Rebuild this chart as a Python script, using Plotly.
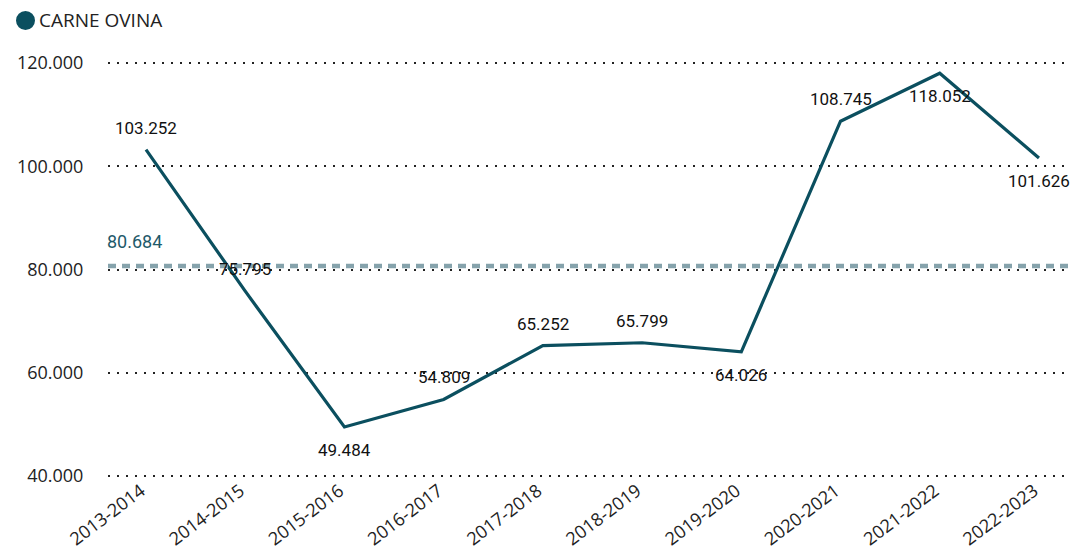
import plotly.graph_objects as go

categories = ["2013-2014", "2014-2015", "2015-2016", "2016-2017", "2017-2018",
              "2018-2019", "2019-2020", "2020-2021", "2021-2022", "2022-2023"]
values = [103252, 75795, 49484, 54809, 65252, 65799, 64026, 108745, 118052, 101626]
label_pos = ["top", "top", "bottom", "top", "top", "top", "bottom", "top", "bottom", "bottom"]
y_ticks = [40000, 60000, 80000, 100000, 120000]
series_name = "CARNE OVINA"

average = sum(values) / len(values)

LINE = "#0B4F5F"
AVG = "#86A3AC"

def fmt(v):
    return f"{v:,.0f}".replace(",", ".")

fig = go.Figure()
fig.add_trace(go.Scatter(x=categories, y=values, mode="lines",
                         line=dict(color=LINE, width=3.2), showlegend=False,
                         hoverinfo="skip"))

for c, v, p in zip(categories, values, label_pos):
    fig.add_annotation(x=c, y=v, text=fmt(v), showarrow=False,
                       yshift=22 if p == "top" else -23,
                       font=dict(family="Roboto", size=17, color="#111"))

fig.add_shape(type="line", xref="paper", x0=0, x1=1, yref="y", y0=average, y1=average,
              line=dict(color=AVG, width=4.5, dash="8px,6px"), layer="above")
fig.add_annotation(xref="paper", x=0, y=average, text=fmt(round(average)), showarrow=False,
                   xanchor="left", yanchor="bottom", yshift=12, xshift=-3,
                   font=dict(family="Roboto", size=18, color="#1E5A6A"))

# legend: circle + text
fig.add_shape(type="circle", xref="paper", yref="paper", xsizemode="pixel", ysizemode="pixel",
              xanchor=0, yanchor=1, x0=-92, x1=-73, y0=28, y1=47,
              fillcolor=LINE, line=dict(width=0))
fig.add_annotation(xref="paper", yref="paper", x=0, y=1.0, yshift=38, xshift=-71,
                   xanchor="left", yanchor="middle", showarrow=False,
                   text=series_name,
                   font=dict(family="Open Sans", size=19, color="#222"))

fig.update_layout(
    width=1071, height=542,
    margin=dict(l=100, r=7, t=50, b=69),
    plot_bgcolor="white", paper_bgcolor="white",
    separators=",.",
    xaxis=dict(type="category", range=[-0.383, 9.333], showgrid=False, showline=False,
               automargin=False, ticklabelshift=-5, ticklabelstandoff=-5,
               tickangle=-37, ticks="", tickfont=dict(family="Open Sans", size=18, color="#222")),
    yaxis=dict(range=[39000, 121000], tickvals=y_ticks, tickformat=",.0f", automargin=False,
               showgrid=True, griddash="2px,7px", gridcolor="#222", gridwidth=1.5,
               zeroline=False, showline=False, ticks="outside", ticklen=20, tickcolor="rgba(0,0,0,0)",
               tickfont=dict(family="Open Sans", size=18, color="#222")),
)

fig.write_html("out.html")
